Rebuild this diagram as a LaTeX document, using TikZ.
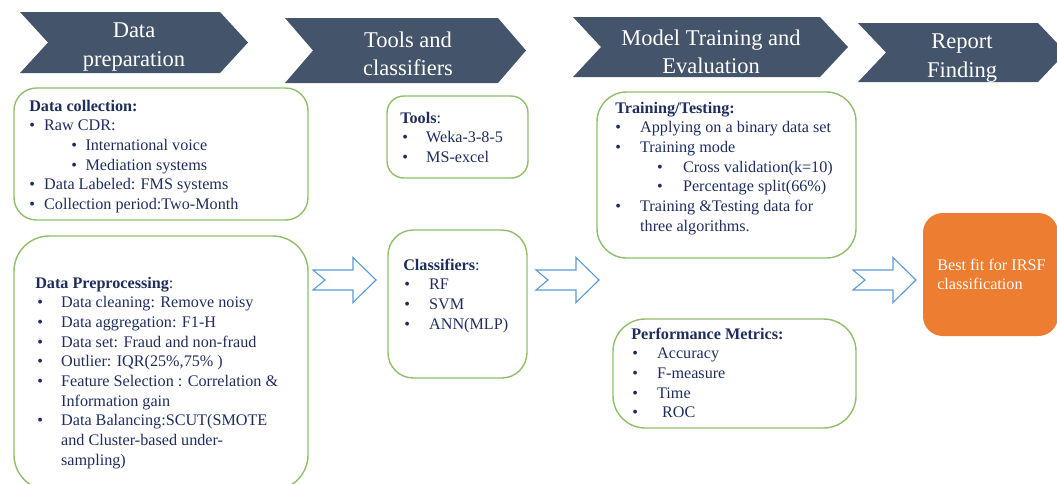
\documentclass[tikz,border=0pt]{standalone}
\usepackage{fontspec}
\setmainfont{Liberation Serif}

\definecolor{slate}{HTML}{44546A}
\definecolor{leaf}{HTML}{8FBF6A}
\definecolor{ink}{HTML}{1F2D5E}
\definecolor{sky}{HTML}{5B9BD5}
\definecolor{tangerine}{HTML}{ED7D31}

\newcommand{\bodysize}{\fontsize{11.5}{14}\selectfont}
\newcommand{\headsize}{\fontsize{16}{20}\selectfont}
% bullet line: indent, bullet width, text
\newcommand{\blt}[3]{\hspace*{#1}\makebox[#2][l]{\textbullet}#3}
\newcommand{\rows}[1]{\begin{tabular}[t]{@{}l@{}}#1\end{tabular}}

\begin{document}
\begin{tikzpicture}[x=0.025cm, y=-0.025cm,
		panel/.style={draw=leaf, line width=1pt, rounded corners=#1},
		txt/.style={anchor=base west, inner sep=0pt, font=\bodysize, text=ink},
		head/.style={align=center, inner sep=0pt, font=\headsize, text=white},
		blockarrow/.style={draw=sky, line width=0.8pt, fill=white}]
	\useasboundingbox (0,0) rectangle (1057,483);
	\clip (0,0) rectangle (1057,483);

	% stage chevrons
	\foreach \xa/\xb/\ya/\yb in {20/220/12/73, 285/498/18/83, 573/820/17/77, 858/1038/23/82} {
		\fill[slate] (\xa,\ya) -- (\xb,\ya) -- (\xb+28,{(\ya+\yb)/2}) -- (\xb,\yb)
			-- (\xa,\yb) -- (\xa+28,{(\ya+\yb)/2}) -- cycle;
	}
	\node[head] (hprep) at (134,47) {Data\\preparation};
	\node[head] (htools) at (408,54) {Tools and\\classifiers};
	\node[head] (htrain) at (711,52) {Model Training and\\Evaluation};
	\node[head] (hreport) at (962,58) {Report\\Finding};

	% panels
	\draw[panel=16pt] (14,88) rectangle (308,220);
	\draw[panel=25pt] (14,236) rectangle (308,490);
	\draw[panel=12pt] (387,96) rectangle (528,178);
	\draw[panel=18pt] (388,230) rectangle (527,378);
	\draw[panel=21pt] (597,92) rectangle (856,258);
	\draw[panel=23pt] (613,319) rectangle (856,428);
	\fill[tangerine, rounded corners=14pt] (923,213) rectangle (1058,336);

	% notched block arrows
	\foreach \ax in {313, 536, 853} {
		\draw[blockarrow, shift={(\ax,280)}] (0,-10) -- (40,-10) -- (40,-22.5) -- (63,0)
			-- (40,22.5) -- (40,10) -- (0,10) -- (12,0) -- cycle;
	}

	\node[txt] (coll) at (29,111) {\rows{\textbf{Data collection:}\\
		\blt{0pt}{10.6pt}{Raw CDR:}\\
		\blt{30pt}{10pt}{International voice}\\
		\blt{30pt}{10pt}{Mediation systems}\\
		\blt{0pt}{10.6pt}{Data Labeled: FMS systems}\\
		\blt{0pt}{10.6pt}{Collection period:Two-Month}}};

	\node[txt] (prep) at (35,288) {\rows{\textbf{Data Preprocessing}:\\
		\blt{1.4pt}{17pt}{Data cleaning: Remove noisy}\\
		\blt{1.4pt}{17pt}{Data aggregation: F1-H}\\
		\blt{1.4pt}{17pt}{Data set: Fraud and non-fraud}\\
		\blt{1.4pt}{17pt}{Outlier: IQR(25\%,75\% )}\\
		\blt{1.4pt}{17pt}{Feature Selection : Correlation \&}\\
		\hspace*{18.4pt}Information gain\\
		\blt{1.4pt}{17pt}{Data Balancing:SCUT(SMOTE}\\
		\hspace*{18.4pt}and Cluster-based under-\\
		\hspace*{18.4pt}sampling)}};

	\node[txt] (tools) at (400,123) {\rows{\textbf{Tools}:\\
		\blt{1.4pt}{17pt}{Weka-3-8-5}\\
		\blt{1.4pt}{17pt}{MS-excel}}};

	\node[txt] (clf) at (403,270) {\rows{\textbf{Classifiers}:\\
		\blt{0.7pt}{17.7pt}{RF}\\
		\blt{0.7pt}{17.7pt}{SVM}\\
		\blt{0.7pt}{17.7pt}{ANN(MLP)}}};

	\node[txt] (train) at (615,113) {\rows{\textbf{Training/Testing:}\\
		\blt{0pt}{17.7pt}{Applying on a binary data set}\\
		\blt{0pt}{17.7pt}{Training mode}\\
		\blt{29.8pt}{18.4pt}{Cross validation(k=10)}\\
		\blt{29.8pt}{18.4pt}{Percentage split(66\%)}\\
		\blt{0pt}{17.7pt}{Training \&Testing data for}\\
		\hspace*{17.7pt}three algorithms.}};

	\node[txt] (perf) at (631,339) {\rows{\textbf{Performance Metrics:}\\
		\blt{0.7pt}{17.7pt}{Accuracy}\\
		\blt{0.7pt}{17.7pt}{F-measure}\\
		\blt{0.7pt}{17.7pt}{Time}\\
		\blt{0.7pt}{17.7pt}{\hspace*{3.5pt}ROC}}};

	\node[txt, text=white] (best) at (937,270) {\rows{Best fit for IRSF\\classification}};
\end{tikzpicture}
\end{document}
